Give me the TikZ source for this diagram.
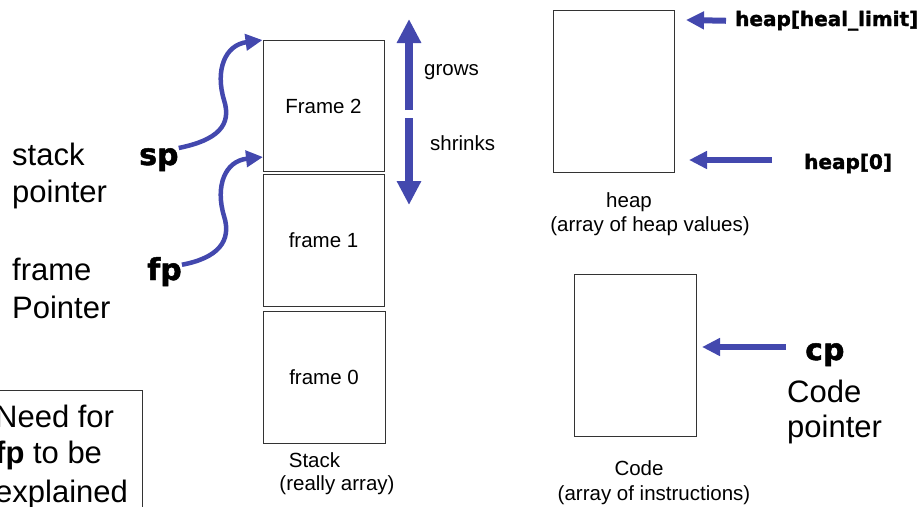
\documentclass[tikz,border=0pt]{standalone}
\usepackage{fontspec}
\setmainfont{Liberation Sans}
\newfontfamily\heavy{DejaVu Sans}[BoldFeatures={FakeBold=1.6}]
\usetikzlibrary{arrows.meta}
\definecolor{ptrblue}{HTML}{4348AE}
\tikzset{
  box/.style={draw=black!80, line width=0.9pt, inner sep=0pt},
  small/.style={font=\fontsize{20.5}{24}\selectfont, inner sep=0pt},
  big/.style={font=\fontsize{31}{37}\selectfont, inner sep=0pt},
  ptr/.style={font=\fontsize{30}{36}\selectfont\heavy\bfseries, inner sep=0pt},
  ptrsmall/.style={font=\fontsize{20}{24}\selectfont\heavy\bfseries, inner sep=0pt},
  curvearrow/.style={draw=ptrblue, line width=4.5pt, -{Triangle[length=17pt,width=16pt]}},
  flatarrow/.style={draw=ptrblue, line width=6pt, -{Triangle[length=18pt,width=17pt]}},
  bigarrow/.style={draw=ptrblue, line width=8pt, -{Triangle[length=24pt,width=23pt]}}
}
\begin{document}
\begin{tikzpicture}[x=1pt,y=-1pt]
\useasboundingbox (0,0) rectangle (920,506);

% stack frames
\node[box, minimum width=121pt, minimum height=131pt, small] (f2) at (323.5,106) {Frame 2};
\node[box, minimum width=121pt, minimum height=132pt, small] (f1) at (323.5,240.5) {frame 1};
\node[box, minimum width=122pt, minimum height=132pt, small] (f0) at (324,377) {frame 0};
\node[small, anchor=base] (stk) at (314.5,467) {Stack};
\node[small, anchor=base] (stk2) at (337,490) {(really array)};

% grows / shrinks
\coordinate (gA) at (409,110);
\coordinate (gB) at (409,19);
\coordinate (sA) at (409,118);
\coordinate (sB) at (409,205);
\draw[bigarrow] (gA) -- (gB);
\draw[bigarrow] (sA) -- (sB);
\node[small, anchor=base west] (grows) at (424,75) {grows};
\node[small, anchor=base west] (shr) at (430,150) {shrinks};

% left labels
\node[big, anchor=base west] (st1) at (12,165) {stack};
\node[big, anchor=base west] (st2) at (12,202) {pointer};
\node[big, anchor=base west] (fr1) at (12,280) {frame};
\node[big, anchor=base west] (fr2) at (12,318) {Pointer};
\node[ptr, anchor=base west] (sp) at (139,165) {sp};
\node[ptr, anchor=base west] (fp) at (147,280) {fp};

\coordinate (fpt) at (263,157);
\draw[curvearrow] (sp.north east) .. controls (218,140) and (232,125) .. (224,100)
      .. controls (215,70) and (225,45) .. (f2.north west);
\draw[curvearrow] ([yshift=7pt]fp.east) .. controls (218,258) and (232,241) .. (224,216)
      .. controls (215,186) and (225,161) .. (fpt);

% note box
\draw[draw=black!80, line width=0.9pt] (-20,390) rectangle (142,530);
\node[big, anchor=base west] (n1) at (-5,427) {Need for};
\node[big, anchor=base west] (n2) at (-5,463) {\textbf{fp} to be};
\node[big, anchor=base west] (n3) at (-5,502) {explained};

% heap
\node[box, minimum width=121pt, minimum height=162pt] (heap) at (613.5,91) {};
\node[small, anchor=base] (hl1) at (629,207) {heap};
\node[small, anchor=base] (hl2) at (650,231) {(array of heap values)};
\node[ptrsmall, anchor=base west] (hl) at (735,26) {heap[heal\_limit]};
\node[ptrsmall, anchor=base west] (hz) at (804,169) {heap[0]};
\coordinate (hlt) at (686,20);
\draw[flatarrow] ([xshift=-9pt]hl.west) -- (hlt);
\coordinate (hzA) at (772,160);
\coordinate (hzB) at (689,160);
\draw[flatarrow] (hzA) -- (hzB);

% code
\node[box, minimum width=122pt, minimum height=162pt] (code) at (635,355) {};
\node[small, anchor=base] (cl1) at (639,475) {Code};
\node[small, anchor=base] (cl2) at (654,500) {(array of instructions)};
\node[ptr, anchor=base west] (cp) at (805,360) {cp};
\node[big, anchor=base west] (cpl1) at (787,402) {Code};
\node[big, anchor=base west] (cpl2) at (787,437) {pointer};
\coordinate (cpA) at (786,347);
\coordinate (cpB) at (702,347);
\draw[flatarrow] (cpA) -- (cpB);
\end{tikzpicture}
\end{document}
